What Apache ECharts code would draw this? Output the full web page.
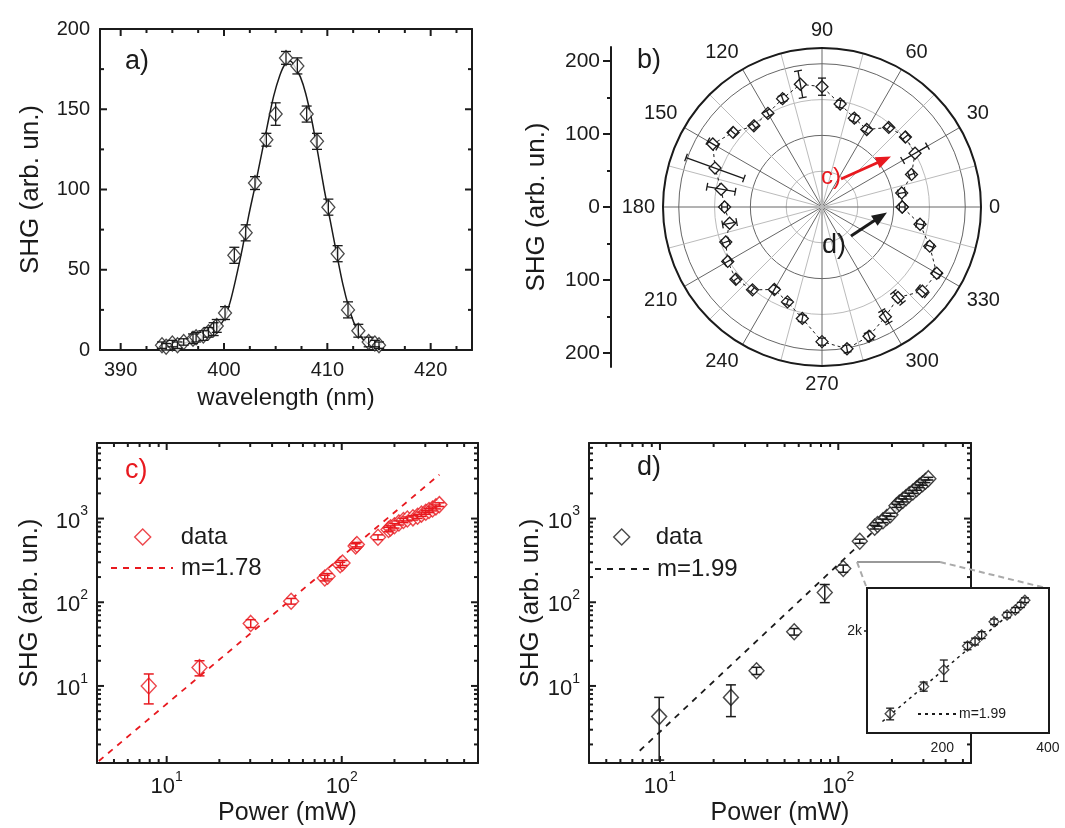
<!DOCTYPE html>
<html><head><meta charset="utf-8">
<script src="https://cdn.jsdelivr.net/npm/echarts@6/dist/echarts.min.js"></script>
<style>html,body{margin:0;padding:0;background:#fff}#c{width:1065px;height:828px}</style>
</head><body><div id="c"></div>
<script>
// ---------------- DATA ----------------
// a) SHG spectrum
const waveA = [394.0, 394.4, 395.0, 395.5, 396.1, 397.0, 397.3, 398.0, 398.5, 399.0, 399.3, 400.1, 401.0, 402.1, 403.0, 404.1, 405.0, 406.0, 407.1, 408.0, 409.0, 410.1, 411.0, 412.0, 413.0, 414.0, 414.6, 415.0];
const shgA  = [3, 2, 4, 3, 5, 7, 8, 9, 11, 13, 15, 23, 59, 73, 104, 131, 147, 182, 177, 147, 130, 89, 60, 25, 12, 5, 4, 3];
const errA  = [2, 2, 2, 2, 2, 3, 3, 3, 3, 4, 4, 4, 5, 5, 4, 4, 7, 4, 5, 5, 5, 5, 5, 5, 4, 3, 2, 2];
const fitWaveA = [393.5, 394.5, 395.5, 396.5, 397.5, 398.5, 399.3, 400.0, 400.6, 401.2, 401.8, 402.4, 403.0, 403.6, 404.2, 404.8, 405.4, 405.9, 406.4, 406.9, 407.4, 407.9, 408.5, 409.1, 409.7, 410.3, 410.9, 411.5, 412.1, 412.7, 413.4, 414.2, 415.0, 415.5];
const fitShgA  = [1, 2, 3, 5, 7, 9, 13, 19, 30, 46, 64, 84, 102, 121, 140, 158, 171, 178, 180, 176, 170, 160, 143, 122, 100, 80, 60, 41, 26, 15, 7, 3, 1.5, 1];
const xTicksA = [390, 400, 410, 420];
const xMinorA = [392.5, 395, 397.5, 402.5, 405, 407.5, 412.5, 415, 417.5, 422.5];
const yTicksA = [0, 50, 100, 150, 200];
const yMinorA = [25, 75, 125, 175];

// b) polar dependence
const anglesB = [0, 10, 20, 30, 40, 50, 60, 70, 80, 90, 100, 110, 120, 130, 140, 150, 160, 170, 180, 190, 200, 210, 220, 230, 240, 250, 260, 270, 280, 290, 300, 310, 320, 330, 340, 350];
const shgB = [112, 113, 133, 150, 152, 145, 125, 132, 146, 168, 174, 161, 151, 148, 162, 176, 159, 143, 136, 131, 143, 152, 157, 151, 133, 141, 158, 188, 201, 192, 177, 165, 183, 185, 160, 139];
const errB = [4, 5, 4, 20, 5, 4, 4, 5, 5, 12, 19, 5, 4, 4, 5, 8, 43, 20, 4, 10, 5, 5, 4, 4, 5, 4, 5, 5, 5, 6, 10, 10, 8, 6, 5, 5];
const yTicksB = [-200, -100, 0, 100, 200];
const yMinorB = [-150, -50, 50, 150];

// c) power dependence (red)
const powerC = [7.9, 15.4, 30.2, 51.4, 80, 83, 98, 101, 120, 122, 161, 185, 190, 200, 212, 225, 237, 255, 271, 285, 302, 315, 330, 345, 361];
const shgC   = [10, 16.6, 55.9, 103, 195, 205, 280, 295, 470, 489, 599, 740, 774, 820, 888, 950, 991, 1020, 1066, 1130, 1190, 1250, 1305, 1380, 1468];
const errC   = [3.9, 3.4, 6, 8, 15, 15, 20, 20, 30, 30, 40, 45, 45, 50, 50, 55, 55, 60, 60, 65, 65, 70, 70, 75, 75];
const fitPowerC = [4.1, 361];
const fitShgC   = [1.27, 3350];

// d) power dependence (black)
const powerD = [9.9, 25, 34.8, 56.6, 84, 106.6, 132, 160, 166, 178, 187, 196, 212, 220, 230, 240, 250, 262, 275, 285, 297, 308, 320];
const shgD   = [4.3, 7.3, 15.2, 44.5, 131, 253, 537, 790, 850, 940, 1028, 1110, 1420, 1530, 1650, 1780, 1930, 2080, 2270, 2430, 2600, 2790, 3000];
const errD   = [3.0, 3.0, 1.5, 4, 32, 25, 30, 40, 40, 45, 50, 50, 60, 60, 70, 70, 80, 80, 90, 90, 100, 100, 110];
const fitPowerD = [7.7, 320];
const fitShgD   = [1.68, 2900];

// d) inset
const powerIn = [142, 177, 202, 236, 248, 259, 281, 306, 323, 335, 344];
const shgIn   = [553, 845, 1094, 1585, 1700, 1879, 2310, 2564, 2770, 3000, 3228];
const errIn   = [50, 60, 180, 90, 90, 100, 100, 110, 110, 120, 120];
const fitPowerIn = [135, 350];
const fitShgIn   = [490, 3300];

const logMajorX = [10, 100];
const logMinorX = [5, 6, 7, 8, 9, 20, 30, 40, 50, 60, 70, 80, 90, 200, 300, 400, 500];
const logMajorY = [10, 100, 1000];
const logMinorY = [2, 3, 4, 5, 6, 7, 8, 9, 20, 30, 40, 50, 60, 70, 80, 90, 200, 300, 400, 500, 600, 700, 800, 900, 2000, 3000, 4000, 5000, 6000, 7000];

// ---------------- STYLE / HELPERS ----------------
const INK = '#1b1b1b', RED = '#e8191f';
const FONT = "'Liberation Sans', Arial, sans-serif";
const MAJ = 7, MIN = 4;
const ZL = 1; // upper layer for the inset

const RANGE = {
  a: {x: [388, 424], y: [0, 200]},
  c: {x: [4, 600], y: [1.2, 8000]},
  d: {x: [4, 555], y: [1.2, 8000]}
};

function mainAxis(gridIndex, pos, type, range, majors, label, name, nameGap, nameSize) {
  const o = {gridIndex: gridIndex, position: pos, type: type, min: range[0], max: range[1],
    splitLine: {show: false}, minorTick: {show: false}, axisTick: {show: false},
    axisLine: {show: true, onZero: false, lineStyle: {color: INK, width: 2}},
    axisLabel: Object.assign({show: true, customValues: majors, color: INK, fontFamily: FONT}, label),
    name: name, nameLocation: 'middle', nameGap: nameGap,
    nameTextStyle: {fontSize: nameSize, color: INK, fontFamily: FONT}};
  if (type === 'log') o.logBase = 10;
  return o;
}
function errBar(color, cap, lw) {
  return function (params, api) {
    const x = api.value(0), lo = api.value(2), hi = api.value(3);
    const p1 = api.coord([x, lo]), p2 = api.coord([x, hi]);
    const st = {stroke: color, lineWidth: lw};
    return {type: 'group', children: [
      {type: 'line', shape: {x1: p1[0], y1: p1[1], x2: p2[0], y2: p2[1]}, style: st},
      {type: 'line', shape: {x1: p1[0] - cap, y1: p1[1], x2: p1[0] + cap, y2: p1[1]}, style: st},
      {type: 'line', shape: {x1: p2[0] - cap, y1: p2[1], x2: p2[0] + cap, y2: p2[1]}, style: st}
    ]};
  };
}
// inward box ticks as thin rect symbols sitting on the four box edges (placed by the axis scales)
function tickMarks(idx, dim, majors, minors, rng) {
  const items = [];
  const add = (v, L) => {
    if (dim === 'x') {
      items.push({value: [v, rng.y[0]], symbolSize: [2, L], symbolOffset: [0, -L / 2]});
      items.push({value: [v, rng.y[1]], symbolSize: [2, L], symbolOffset: [0, L / 2]});
    } else {
      items.push({value: [rng.x[0], v], symbolSize: [L, 2], symbolOffset: [L / 2, 0]});
      items.push({value: [rng.x[1], v], symbolSize: [L, 2], symbolOffset: [-L / 2, 0]});
    }
  };
  majors.forEach(v => add(v, MAJ));
  minors.forEach(v => add(v, MIN));
  return {type: 'scatter', xAxisIndex: idx, yAxisIndex: idx, symbol: 'rect', clip: false, silent: true, z: 4,
    itemStyle: {color: INK, opacity: 1}, emphasis: {disabled: true}, data: items};
}
function polarErr(color, cap, lw) {
  return function (params, api) {
    const r = api.value(0), a = api.value(1), e = api.value(2);
    const p1 = api.coord([r - e, a]), p2 = api.coord([r + e, a]);
    const dx = p2[0] - p1[0], dy = p2[1] - p1[1], L = Math.hypot(dx, dy) || 1;
    const nx = -dy / L * cap, ny = dx / L * cap;
    const st = {stroke: color, lineWidth: lw};
    return {type: 'group', children: [
      {type: 'line', shape: {x1: p1[0], y1: p1[1], x2: p2[0], y2: p2[1]}, style: st},
      {type: 'line', shape: {x1: p1[0] - nx, y1: p1[1] - ny, x2: p1[0] + nx, y2: p1[1] + ny}, style: st},
      {type: 'line', shape: {x1: p2[0] - nx, y1: p2[1] - ny, x2: p2[0] + nx, y2: p2[1] + ny}, style: st}
    ]};
  };
}
const supFmt = v => '{b|10}{s|' + Math.round(Math.log10(v)) + '}';
const supRich = {b: {fontSize: 22, color: INK, fontFamily: FONT, verticalAlign: 'bottom', lineHeight: 28},
                 s: {fontSize: 14, color: INK, fontFamily: FONT, verticalAlign: 'top', lineHeight: 14}};

// ---------------- GRIDS (box drawn by axis lines) ----------------
const plainGrid = (l, t, w, h) => ({left: l, top: t, width: w, height: h, outerBoundsMode: 'none'});
const grids = [
  plainGrid(100, 29, 372, 321),   // a
  plainGrid(97, 443, 381, 320),   // c
  plainGrid(589, 443, 382, 320),  // d
  plainGrid(611, 47, 10, 320),    // b left scale
  {left: 867, top: 588, width: 182, height: 145, show: true, backgroundColor: '#fff', borderColor: INK, borderWidth: 2,
   z: 5, zlevel: ZL, outerBoundsMode: 'none'} // inset
];
const edgeAxis = (gi, pos, type, range) => {
  const o = {gridIndex: gi, position: pos, type: type, min: range[0], max: range[1], splitLine: {show: false},
    axisTick: {show: false}, axisLabel: {show: false}, axisLine: {show: true, onZero: false, lineStyle: {color: INK, width: 2}}};
  if (type === 'log') o.logBase = 10;
  return o;
};

const xAxes = [
  mainAxis(0, 'bottom', 'value', RANGE.a.x, xTicksA, {fontSize: 20, margin: 10}, 'wavelength (nm)', 36, 24),
  mainAxis(1, 'bottom', 'log', RANGE.c.x, logMajorX, {formatter: supFmt, rich: supRich, margin: 7}, 'Power (mW)', 38, 25),
  mainAxis(2, 'bottom', 'log', RANGE.d.x, logMajorX, {formatter: supFmt, rich: supRich, margin: 7}, 'Power (mW)', 38, 25),
  {gridIndex: 3, type: 'value', min: 0, max: 1, show: false},
  {gridIndex: 4, type: 'log', logBase: 10, min: 122, max: 403, position: 'bottom', z: 6, zlevel: ZL, splitLine: {show: false},
    axisLine: {show: true, onZero: false, lineStyle: {color: INK, width: 2}}, axisTick: {show: false},
    axisLabel: {customValues: [200, 400], fontSize: 14, color: INK, fontFamily: FONT, margin: 8}},
  edgeAxis(0, 'top', 'value', RANGE.a.x),
  edgeAxis(1, 'top', 'log', RANGE.c.x),
  edgeAxis(2, 'top', 'log', RANGE.d.x)
];
const yAxes = [
  mainAxis(0, 'left', 'value', RANGE.a.y, yTicksA, {fontSize: 20, margin: 10}, 'SHG (arb. un.)', 56, 26),
  mainAxis(1, 'left', 'log', RANGE.c.y, logMajorY, {formatter: supFmt, rich: supRich, margin: 9}, 'SHG (arb. un.)', 54, 26),
  mainAxis(2, 'left', 'log', RANGE.d.y, logMajorY, {formatter: supFmt, rich: supRich, margin: 9}, 'SHG (arb. un.)', 42, 26),
  {gridIndex: 3, type: 'value', min: -219, max: 219, position: 'left', splitLine: {show: false},
    axisLine: {show: true, onZero: false, lineStyle: {color: INK, width: 2}},
    axisTick: {show: true, inside: false, length: 8, customValues: yTicksB, lineStyle: {color: INK, width: 2}},
    axisLabel: {customValues: yTicksB, formatter: v => String(Math.abs(v)), fontSize: 21, color: INK, fontFamily: FONT, margin: 11},
    name: 'SHG (arb. un.)', nameLocation: 'middle', nameGap: 61, nameTextStyle: {fontSize: 26, color: INK, fontFamily: FONT}},
  {gridIndex: 4, type: 'log', logBase: 10, min: 410, max: 3900, position: 'left', z: 6, zlevel: ZL, splitLine: {show: false},
    axisLine: {show: true, onZero: false, lineStyle: {color: INK, width: 2}},
    axisTick: {show: true, inside: false, length: 3, customValues: [2000], lineStyle: {color: INK, width: 1.5}},
    axisLabel: {customValues: [2000], formatter: () => '2k', fontSize: 14, color: INK, fontFamily: FONT, margin: 5}},
  {gridIndex: 3, type: 'value', min: -219, max: 219, position: 'left', splitLine: {show: false},
    axisLine: {show: false, onZero: false}, axisLabel: {show: false},
    axisTick: {show: true, inside: false, length: 4, customValues: yMinorB, lineStyle: {color: INK, width: 2}}},
  edgeAxis(0, 'right', 'value', RANGE.a.y),
  edgeAxis(1, 'right', 'log', RANGE.c.y),
  edgeAxis(2, 'right', 'log', RANGE.d.y)
];

// ---------------- SERIES ----------------
const open = (c, w) => ({color: '#fff', borderColor: c, borderWidth: w});
const series = [
  // box ticks
  tickMarks(0, 'x', xTicksA, xMinorA, RANGE.a),
  tickMarks(0, 'y', yTicksA, yMinorA, RANGE.a),
  tickMarks(1, 'x', logMajorX, logMinorX, RANGE.c),
  tickMarks(1, 'y', logMajorY, logMinorY, RANGE.c),
  tickMarks(2, 'x', logMajorX, logMinorX, RANGE.d),
  tickMarks(2, 'y', logMajorY, logMinorY, RANGE.d),
  // a
  {type: 'line', name: 'fitA', xAxisIndex: 0, yAxisIndex: 0, data: fitWaveA.map((w, i) => [w, fitShgA[i]]),
   symbol: 'none', smooth: 0.3, lineStyle: {color: INK, width: 1.5}, z: 2},
  {type: 'scatter', name: 'dataA', xAxisIndex: 0, yAxisIndex: 0, data: waveA.map((w, i) => [w, shgA[i]]),
   symbol: 'diamond', symbolSize: [13, 15], itemStyle: open(INK, 1.3), z: 3},
  {type: 'custom', name: 'errA', xAxisIndex: 0, yAxisIndex: 0, renderItem: errBar(INK, 5, 1.3), encode: {x: 0, y: 1},
   data: waveA.map((w, i) => [w, shgA[i], shgA[i] - errA[i], shgA[i] + errA[i]]), z: 4},
  // b polar
  {type: 'line', name: 'dataB', coordinateSystem: 'polar', polarIndex: 0,
   data: anglesB.map((a, i) => [shgB[i], a]).concat([[shgB[0], 360]]),
   symbol: 'diamond', symbolSize: 12, itemStyle: open(INK, 1.3), lineStyle: {color: INK, width: 1, type: [3, 3]}, z: 3},
  {type: 'custom', name: 'errB', coordinateSystem: 'polar', polarIndex: 0, renderItem: polarErr(INK, 4, 1.3),
   encode: {radius: 0, angle: 1}, data: anglesB.map((a, i) => [shgB[i], a, errB[i]]), z: 4},
  // c
  {type: 'line', name: 'm=1.78', xAxisIndex: 1, yAxisIndex: 1, data: fitPowerC.map((p, i) => [p, fitShgC[i]]),
   symbol: 'none', itemStyle: {color: RED}, lineStyle: {color: RED, width: 1.8, type: [6, 6]}, z: 2},
  {type: 'scatter', name: 'data', xAxisIndex: 1, yAxisIndex: 1, data: powerC.map((p, i) => [p, shgC[i]]),
   symbol: 'diamond', symbolSize: [15, 16], itemStyle: open(RED, 1.4), z: 3},
  {type: 'custom', name: 'errC', xAxisIndex: 1, yAxisIndex: 1, renderItem: errBar(RED, 5, 1.5), encode: {x: 0, y: 1},
   data: powerC.map((p, i) => [p, shgC[i], shgC[i] - errC[i], shgC[i] + errC[i]]), z: 4},
  // d
  {type: 'line', name: 'm=1.99', xAxisIndex: 2, yAxisIndex: 2, data: fitPowerD.map((p, i) => [p, fitShgD[i]]),
   symbol: 'none', itemStyle: {color: INK}, lineStyle: {color: INK, width: 1.8, type: [6, 6]}, z: 2},
  {type: 'scatter', name: 'data (d)', xAxisIndex: 2, yAxisIndex: 2, data: powerD.map((p, i) => [p, shgD[i]]),
   symbol: 'diamond', symbolSize: [15, 16], itemStyle: open(INK, 1.4), z: 3},
  {type: 'custom', name: 'errD', xAxisIndex: 2, yAxisIndex: 2, renderItem: errBar(INK, 5, 1.5), encode: {x: 0, y: 1},
   data: powerD.map((p, i) => [p, shgD[i], shgD[i] - errD[i], shgD[i] + errD[i]]), z: 4},
  // inset
  {type: 'line', name: 'm=1.99 (inset)', xAxisIndex: 4, yAxisIndex: 4, data: fitPowerIn.map((p, i) => [p, fitShgIn[i]]),
   symbol: 'none', itemStyle: {color: INK}, lineStyle: {color: INK, width: 1.5, type: [3, 4]}, z: 7, zlevel: ZL},
  {type: 'scatter', name: 'dataIn', xAxisIndex: 4, yAxisIndex: 4, data: powerIn.map((p, i) => [p, shgIn[i]]),
   symbol: 'diamond', symbolSize: 10, itemStyle: open(INK, 1.3), z: 8, zlevel: ZL},
  {type: 'custom', name: 'errIn', xAxisIndex: 4, yAxisIndex: 4, renderItem: errBar(INK, 4, 1.3), encode: {x: 0, y: 1},
   data: powerIn.map((p, i) => [p, shgIn[i], shgIn[i] - errIn[i], shgIn[i] + errIn[i]]), z: 9, zlevel: ZL}
];

// ---------------- LEGENDS ----------------
const TXT = {fontSize: 24, color: INK, fontFamily: FONT};
const hideSym = {color: 'rgba(0,0,0,0)', borderColor: 'rgba(0,0,0,0)', borderWidth: 0};
const legend = [
  {data: ['data'], left: 134, top: 525, padding: 0, selectedMode: false, itemWidth: 16, itemHeight: 16,
    itemStyle: {borderWidth: 1.4}, textStyle: Object.assign({}, TXT, {padding: [0, 0, 0, 25]})},
  {data: ['m=1.78'], left: 110, top: 556, padding: 0, selectedMode: false, itemWidth: 62, itemHeight: 14,
    itemStyle: hideSym, textStyle: Object.assign({}, TXT, {padding: [0, 0, 0, 3]})},
  {data: ['data (d)'], formatter: () => 'data', left: 613, top: 525, padding: 0, selectedMode: false, itemWidth: 16, itemHeight: 16,
    itemStyle: {borderWidth: 1.4}, textStyle: Object.assign({}, TXT, {padding: [0, 0, 0, 21]})},
  {data: ['m=1.99'], left: 594, top: 557, padding: 0, selectedMode: false, itemWidth: 54, itemHeight: 14,
    itemStyle: hideSym, textStyle: Object.assign({}, TXT, {padding: [0, 0, 0, 3]})},
  {data: ['m=1.99 (inset)'], formatter: () => 'm=1.99', left: 917, top: 707, padding: 0, selectedMode: false, itemWidth: 40, itemHeight: 10,
    z: 10, zlevel: ZL, itemStyle: hideSym, textStyle: {fontSize: 14, color: INK, fontFamily: FONT, padding: [0, 0, 0, -4]}}
];

// ---------------- ANNOTATIONS ----------------
const lbl = (t, x, y, size, color) => ({type: 'text', x: x, y: y, z: 20,
  style: {text: t, fontSize: size, fontFamily: FONT, fill: color, align: 'left', verticalAlign: 'middle'}});
const graphic = [
  lbl('a)', 125, 62, 27, INK),
  lbl('b)', 637, 61, 27, INK),
  lbl('c)', 125, 471, 27, RED),
  lbl('d)', 637, 468, 27, INK),
  lbl('c)', 821, 177, 24, RED),
  lbl('d)', 822, 246, 27, INK),
  {type: 'line', z: 20, shape: {x1: 841, y1: 179, x2: 879, y2: 162}, style: {stroke: RED, lineWidth: 3}},
  {type: 'polygon', z: 20, shape: {points: [[891, 156.5], [879.7, 168.2], [874.7, 157.2]]}, style: {fill: RED}},
  {type: 'line', z: 20, shape: {x1: 851, y1: 236, x2: 876, y2: 219.5}, style: {stroke: INK, lineWidth: 3}},
  {type: 'polygon', z: 20, shape: {points: [[887, 212.5], [877.6, 225.7], [871.0, 215.7]]}, style: {fill: INK}},
  {type: 'line', z: 20, shape: {x1: 857, y1: 562, x2: 940, y2: 562}, style: {stroke: '#999', lineWidth: 2}},
  {type: 'line', z: 20, shape: {x1: 940, y1: 562, x2: 1046, y2: 588}, style: {stroke: '#aaa', lineWidth: 2, lineDash: [6, 4]}},
  {type: 'line', z: 20, shape: {x1: 857, y1: 562, x2: 866, y2: 586}, style: {stroke: '#aaa', lineWidth: 2, lineDash: [6, 4]}}
];

const option = {
  animation: false,
  backgroundColor: '#fff',
  textStyle: {fontFamily: FONT},
  grid: grids,
  xAxis: xAxes,
  yAxis: yAxes,
  polar: {center: [822, 207], radius: 159},
  angleAxis: {type: 'value', min: 0, max: 360, interval: 30, startAngle: 0, clockwise: false,
    axisLine: {show: true, lineStyle: {color: INK, width: 2}}, axisTick: {show: false},
    axisLabel: {fontSize: 20, color: INK, fontFamily: FONT, margin: 8},
    splitLine: {show: true, lineStyle: {color: '#666', width: 1}},
    minorTick: {show: false, splitNumber: 2},
    minorSplitLine: {show: true, lineStyle: {color: '#bbb', width: 1}}},
  radiusAxis: {type: 'value', min: 0, max: 222, interval: 50,
    axisLine: {show: false}, axisTick: {show: false}, axisLabel: {show: false},
    splitLine: {show: true, lineStyle: {color: ['#666', '#bbb'], width: 1}}},
  legend: legend,
  graphic: graphic,
  series: series
};
const chart = echarts.init(document.getElementById('c'), null, {renderer: 'canvas'});
chart.setOption(option);
</script>
</body></html>
